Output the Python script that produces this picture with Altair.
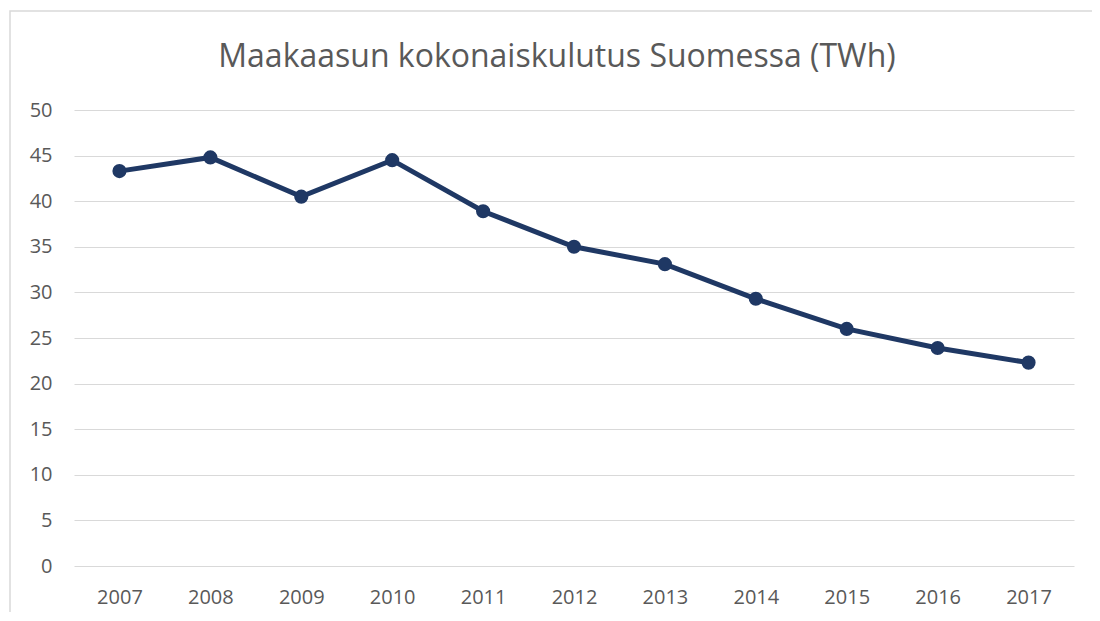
import altair as alt
import pandas as pd

years = ["2007", "2008", "2009", "2010", "2011", "2012", "2013", "2014", "2015", "2016", "2017"]
values = [43.3, 44.8, 40.5, 44.5, 38.9, 35.0, 33.1, 29.3, 26.0, 23.9, 22.3]
y_ticks = [0, 5, 10, 15, 20, 25, 30, 35, 40, 45, 50]
title_text = "Maakaasun kokonaiskulutus Suomessa (TWh)"

df = pd.DataFrame({"year": years, "value": values})

FONT = "Open Sans, sans-serif"
TXT = "#595959"
NAVY = "#1F3864"

W, H = 1000, 456

border = alt.Chart(pd.DataFrame({"a": [0]})).mark_rect(
    fillOpacity=0, stroke="#d9d9d9", strokeWidth=1.5
).encode(
    x=alt.value(-64), x2=alt.value(W + 60),
    y=alt.value(-99), y2=alt.value(H + 80),
)

title = alt.Chart(pd.DataFrame({"t": [title_text]})).mark_text(
    font=FONT, fontSize=32, color=TXT, align="center", baseline="alphabetic"
).encode(text="t:N", x=alt.value(483), y=alt.value(-43))

base = alt.Chart(df).encode(
    x=alt.X("year:N", sort=years, title=None,
            scale=alt.Scale(type="point", padding=0.5),
            axis=alt.Axis(labelAngle=0, domain=False, ticks=False, grid=False,
                          labelFontSize=20, labelColor=TXT, labelFont=FONT, labelPadding=21)),
    y=alt.Y("value:Q", title=None,
            scale=alt.Scale(domain=[0, 50], nice=False),
            axis=alt.Axis(values=y_ticks, domain=False, ticks=False, gridColor="#d9d9d9",
                          gridWidth=1, labelFontSize=20, labelColor=TXT, labelFont=FONT,
                          labelPadding=22)),
)

line = base.mark_line(color=NAVY, strokeWidth=5)
pts = base.mark_point(filled=True, color=NAVY, size=200, opacity=1)

chart = alt.layer(border, title, line, pts).properties(
    width=W, height=H,
    autosize=alt.AutoSizeParams(type="none"),
    padding={"left": 66, "top": 102, "right": 18, "bottom": 46},
).configure_view(stroke=None)

chart.save("out.html", embed_options={"renderer": "svg", "actions": False})
